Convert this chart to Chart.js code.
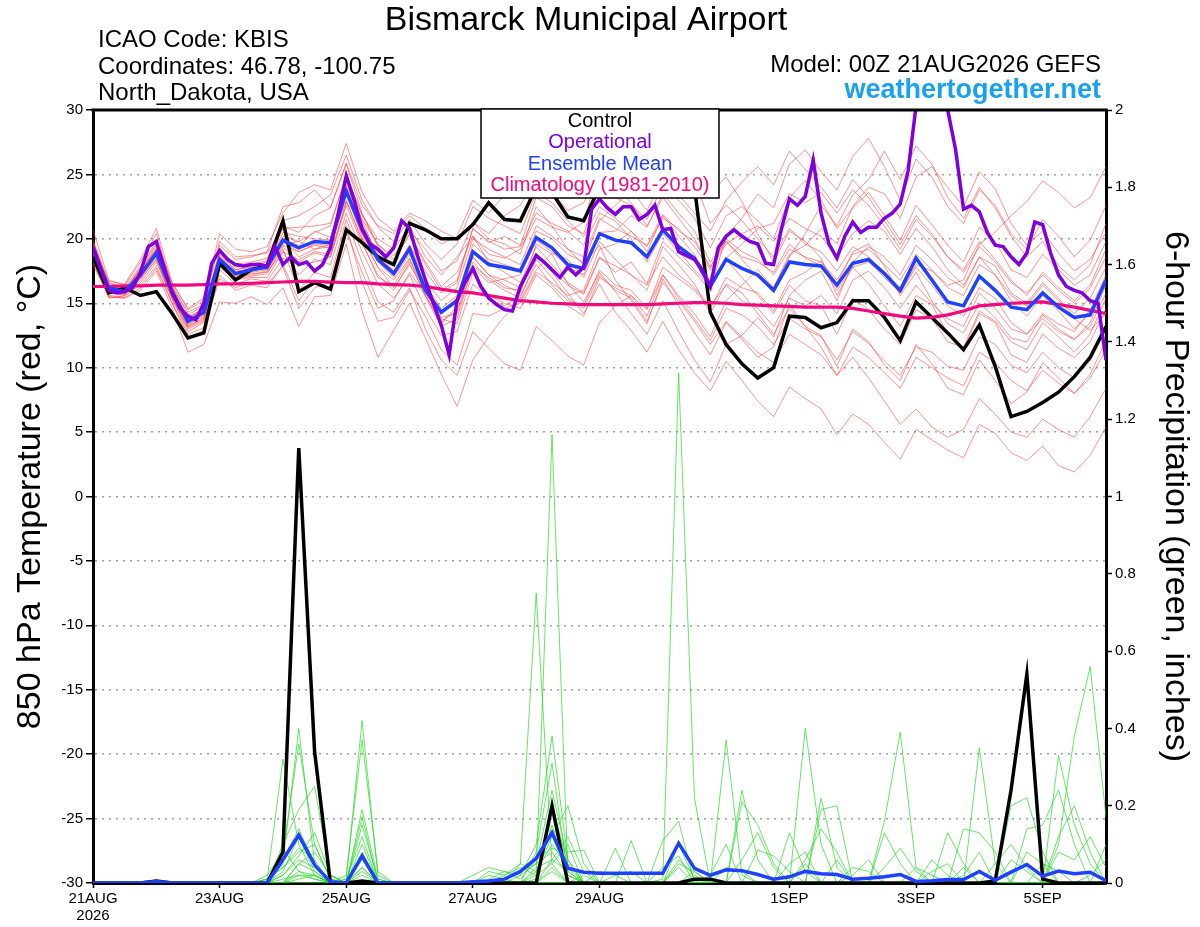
<!DOCTYPE html>
<html>
<head>
<meta charset="utf-8">
<title>Bismarck Municipal Airport</title>
<script src="https://cdn.jsdelivr.net/npm/chart.js@4.4.1/dist/chart.umd.min.js"></script>
<style>
  html, body { margin: 0; padding: 0; background: #fff; }
  #chart { display: block; }
</style>
</head>
<body>
<canvas id="chart" width="1200" height="927"></canvas>
<script>
const FONT = "'Liberation Sans', Arial, Helvetica, sans-serif";

// text
const titleText = 'Bismarck Municipal Airport';
const infoLines = ['ICAO Code: KBIS', 'Coordinates: 46.78, -100.75', 'North_Dakota, USA'];
const modelText = 'Model: 00Z 21AUG2026 GEFS';
const siteText = 'weathertogether.net';
const legendNames = ['Control', 'Operational', 'Ensemble Mean', 'Climatology (1981-2010)'];
const legendColors = ['#000000', '#7f00dd', '#2040ff', '#f00a80'];

// time axis (hours after 21AUG 00Z)
const stepHours = 6;
const opStepHours = 3;
const xTickHours = [0, 48, 96, 144, 192, 264, 312, 360];
const xTickLabels = [['21AUG', '2026'], '23AUG', '25AUG', '27AUG', '29AUG', '1SEP', '3SEP', '5SEP'];

// 850 hPa temperature, 6-hourly
const controlTemp = [18.6, 15.8, 16.2, 15.6, 15.9, 14.2, 12.3, 12.7, 18.1, 16.8,
  17.6, 17.9, 21.4, 15.9, 16.6, 16.1, 20.7, 19.7, 18.6, 18.0,
  21.2, 20.7, 20.0, 20.0, 21.1, 22.8, 21.5, 21.4, 24.0, 23.6,
  21.7, 21.4, 24.0, 25.0, 24.5, 25.0, 24.5, 25.0, 24.0, 14.3,
  11.8, 10.3, 9.2, 10.0, 14.0, 13.9, 13.1, 13.5, 15.2, 15.2,
  13.9, 12.1, 15.1, 13.9, 12.7, 11.4, 13.3, 10.1, 6.2, 6.6,
  7.3, 8.1, 9.3, 10.8, 13.2];
const meanTemp = [19.2, 16.2, 15.9, 17.2, 18.9, 15.9, 13.6, 14.3, 18.4, 17.3,
  17.6, 17.8, 19.9, 19.3, 19.8, 19.7, 23.7, 20.7, 18.4, 17.3,
  19.2, 16.0, 14.3, 15.2, 19.0, 18.0, 17.8, 17.5, 20.1, 19.3,
  18.0, 17.7, 20.4, 19.9, 19.7, 18.6, 20.7, 19.4, 18.5, 16.3,
  18.4, 17.7, 17.2, 16.0, 18.2, 18.0, 17.9, 16.4, 18.1, 18.4,
  17.3, 16.0, 18.5, 16.8, 15.1, 14.8, 17.1, 16.0, 14.7, 14.5,
  15.8, 14.7, 13.9, 14.1, 16.8];
const climoTemp = [16.3, 16.3, 16.35, 16.35, 16.4, 16.4, 16.4, 16.45, 16.5, 16.5,
  16.55, 16.6, 16.65, 16.7, 16.7, 16.65, 16.6, 16.6, 16.5, 16.45,
  16.4, 16.3, 16.1, 15.9, 15.8, 15.6, 15.4, 15.2, 15.1, 15.0,
  14.95, 14.9, 14.9, 14.9, 14.9, 14.9, 14.95, 15.0, 15.05, 15.05,
  15.0, 14.9, 14.85, 14.8, 14.75, 14.7, 14.7, 14.7, 14.6, 14.4,
  14.2, 14.0, 13.85, 13.9, 14.1, 14.4, 14.8, 14.9, 15.0, 15.05,
  15.1, 14.9, 14.7, 14.45, 14.2];

// operational run, 3-hourly
const operationalTemp = [19.4, 17.6, 16.0, 15.8, 15.9, 16.2, 17.4, 19.4, 19.8, 17.8,
  15.8, 14.6, 14.0, 13.7, 15.0, 18.1, 19.1, 18.4, 18.0, 17.9,
  18.0, 18.0, 17.9, 19.4, 18.0, 18.6, 18.0, 18.2, 17.5, 18.0,
  19.3, 22.0, 24.9, 23.0, 20.8, 19.6, 19.2, 18.6, 19.3, 21.4,
  20.8, 18.7, 16.8, 15.0, 13.3, 11.0, 15.2, 16.6, 17.7, 16.3,
  15.4, 14.9, 14.5, 14.4, 16.3, 17.5, 18.7, 18.2, 17.6, 17.0,
  17.8, 17.2, 17.8, 22.3, 23.1, 22.4, 21.9, 22.5, 22.5, 21.5,
  21.9, 22.6, 20.7, 20.8, 19.0, 18.7, 18.4, 17.6, 16.3, 19.3,
  20.2, 20.7, 20.2, 19.8, 19.6, 18.1, 18.0, 20.8, 23.1, 22.6,
  23.3, 26.1, 22.0, 19.6, 18.5, 20.2, 21.3, 20.5, 20.9, 20.9,
  21.6, 22.0, 22.7, 25.3, 30.3, 32.5, 33.0, 32.0, 30.0, 26.9,
  22.3, 22.6, 22.1, 20.5, 19.5, 19.4, 18.6, 18.0, 18.9, 21.3,
  21.1, 18.9, 17.2, 16.3, 16.0, 15.8, 15.2, 15.0, 10.6];

// ensemble members, temperature
const memT1 = [19.5, 16.0, 15.8, 17.8, 19.6, 16.1, 13.2, 13.9, 19.2, 18.0,
  18.2, 18.5, 21.0, 20.5, 21.8, 22.4, 25.8, 22.0, 19.5, 18.7,
  20.6, 19.2, 17.5, 18.3, 21.3, 20.0, 19.6, 18.8, 22.5, 21.0,
  19.2, 18.0, 19.5, 16.8, 15.2, 13.4, 16.9, 14.8, 12.7, 11.0,
  13.5, 12.2, 10.8, 11.6, 14.9, 13.2, 12.5, 10.1, 13.0, 12.0,
  10.2, 9.0, 11.8, 10.3, 8.4, 7.9, 10.6, 9.0, 7.2, 8.1,
  10.4, 9.2, 8.0, 9.5, 12.1];
const memT2 = [18.4, 15.6, 15.5, 16.6, 18.2, 15.3, 12.8, 13.5, 17.6, 16.5,
  16.9, 16.7, 18.5, 18.0, 18.2, 18.6, 22.8, 21.4, 18.6, 17.5,
  19.5, 17.5, 15.8, 16.6, 20.8, 19.7, 20.2, 19.5, 23.2, 22.5,
  21.0, 20.4, 24.0, 23.2, 22.6, 21.5, 24.2, 23.0, 21.6, 19.3,
  21.8, 22.5, 21.4, 20.0, 23.2, 24.5, 23.0, 20.8, 22.4, 23.6,
  21.8, 19.9, 22.6, 21.1, 19.5, 18.2, 20.9, 19.8, 17.6, 17.0,
  18.8, 17.6, 16.4, 17.2, 19.8];
const memT3 = [19.0, 16.4, 16.0, 17.0, 18.6, 15.6, 13.8, 14.6, 18.0, 17.0,
  17.2, 17.5, 19.2, 16.0, 17.4, 17.0, 21.5, 18.2, 15.1, 14.3,
  16.2, 13.0, 10.6, 9.4, 12.8, 11.5, 10.3, 9.8, 13.2, 12.1,
  10.9, 10.2, 13.5, 14.8, 15.6, 14.5, 17.8, 16.9, 16.0, 14.6,
  17.0, 16.2, 15.8, 14.4, 16.8, 17.4, 18.3, 16.5, 19.0, 19.6,
  17.9, 15.6, 17.4, 15.2, 13.4, 12.7, 15.0, 13.9, 12.3, 12.0,
  14.1, 13.0, 12.2, 13.5, 16.4];
const memT4 = [20.7, 16.8, 16.4, 18.2, 20.4, 16.3, 14.3, 14.9, 19.8, 18.6,
  18.7, 18.9, 20.8, 19.4, 20.6, 20.1, 24.5, 21.5, 19.6, 18.4,
  20.3, 18.2, 16.3, 17.4, 20.2, 18.8, 18.5, 19.2, 21.6, 20.9,
  20.5, 21.3, 25.5, 24.8, 26.0, 25.1, 28.4, 27.6, 26.2, 23.5,
  24.8, 22.9, 20.4, 18.2, 20.6, 19.8, 18.5, 15.6, 17.8, 16.5,
  14.8, 13.2, 15.6, 14.9, 12.6, 11.4, 14.2, 13.5, 11.0, 10.4,
  12.6, 11.5, 10.8, 12.0, 14.6];
const memT5 = [18.2, 15.4, 15.6, 16.4, 17.9, 15.0, 12.3, 12.9, 17.2, 16.0,
  16.4, 16.2, 18.0, 15.2, 16.8, 16.5, 20.6, 17.4, 14.6, 15.2,
  17.4, 15.6, 13.4, 14.8, 18.6, 17.2, 16.4, 15.8, 19.6, 18.8,
  16.5, 15.1, 17.4, 15.9, 14.2, 12.6, 15.2, 12.8, 10.6, 8.9,
  11.8, 12.5, 13.9, 12.4, 15.6, 16.8, 17.5, 15.2, 18.2, 19.4,
  18.6, 17.2, 19.5, 18.4, 17.0, 16.2, 18.6, 17.9, 15.8, 15.0,
  16.6, 15.4, 13.8, 12.9, 14.2];
const memT6 = [19.6, 16.6, 16.2, 17.6, 19.2, 16.0, 13.9, 14.5, 18.8, 17.6,
  17.9, 18.2, 20.2, 19.8, 20.5, 21.0, 25.0, 21.8, 20.0, 19.2,
  21.0, 18.6, 17.2, 18.6, 20.2, 18.2, 17.4, 16.6, 19.4, 18.0,
  16.6, 15.8, 18.6, 17.4, 18.2, 16.5, 19.8, 18.6, 17.4, 16.0,
  20.2, 21.6, 23.5, 22.4, 25.8, 26.9, 25.2, 23.8, 26.4, 27.8,
  25.6, 23.0, 26.2, 24.8, 22.5, 21.2, 23.8, 22.6, 20.4, 19.2,
  21.5, 20.2, 18.6, 19.9, 22.6];
const memT7 = [18.8, 15.8, 15.7, 17.0, 18.6, 15.6, 13.2, 13.8, 18.3, 17.2,
  17.4, 17.6, 19.5, 19.0, 19.6, 19.5, 23.4, 20.4, 18.2, 17.0,
  18.8, 16.4, 14.6, 15.6, 18.6, 17.2, 16.8, 16.2, 18.8, 17.4,
  15.8, 14.2, 16.5, 14.3, 12.9, 11.2, 13.6, 11.4, 9.6, 8.2,
  10.5, 9.0, 7.4, 6.2, 8.5, 7.6, 6.8, 4.8, 6.4, 5.6,
  4.2, 2.9, 5.2, 4.4, 3.6, 3.0, 5.6, 4.9, 3.4, 2.8,
  3.9, 2.4, 1.9, 3.2, 5.4];
const memT8 = [19.9, 16.3, 16.1, 17.4, 19.2, 16.4, 14.1, 14.8, 18.9, 17.8,
  18.0, 18.3, 21.4, 21.8, 22.5, 23.4, 26.5, 23.0, 20.9, 19.8,
  21.5, 19.6, 18.4, 19.6, 22.5, 21.6, 21.0, 20.4, 23.6, 22.8,
  21.4, 20.2, 22.5, 21.6, 20.6, 19.0, 21.8, 20.2, 18.8, 16.5,
  18.4, 17.0, 15.6, 14.2, 16.4, 15.2, 14.8, 12.6, 15.4, 14.5,
  13.0, 11.8, 14.5, 13.8, 12.0, 11.6, 14.4, 13.6, 12.0, 11.4,
  13.5, 12.4, 11.2, 12.6, 15.4];
const memT9 = [18.6, 16.0, 15.9, 17.1, 18.7, 15.8, 13.4, 14.0, 18.0, 17.0,
  17.3, 17.4, 19.0, 18.4, 19.0, 18.8, 22.9, 20.0, 17.8, 16.2,
  18.0, 15.8, 13.9, 14.2, 17.8, 16.6, 16.9, 17.2, 19.9, 19.0,
  17.8, 17.2, 20.5, 20.6, 21.8, 20.9, 23.5, 22.0, 20.6, 18.2,
  19.8, 18.4, 17.0, 16.2, 18.8, 19.5, 20.8, 19.6, 22.5, 24.0,
  23.5, 21.6, 24.8, 25.6, 24.0, 22.5, 25.2, 23.9, 21.2, 19.5,
  20.6, 18.9, 17.5, 18.4, 20.5];
const memT10 = [19.3, 16.1, 15.8, 17.3, 18.9, 15.7, 13.5, 14.4, 18.6, 17.4,
  17.7, 17.9, 20.5, 20.2, 20.0, 19.9, 24.2, 21.1, 18.9, 17.5,
  19.5, 16.2, 13.8, 13.4, 17.4, 15.6, 15.0, 14.6, 17.2, 16.2,
  14.8, 14.0, 17.0, 16.2, 15.6, 14.0, 17.2, 15.4, 13.8, 12.1,
  14.6, 14.1, 13.2, 11.8, 13.8, 13.0, 12.4, 10.6, 12.8, 11.9,
  10.5, 9.4, 11.6, 11.2, 10.1, 9.8, 12.4, 11.8, 10.2, 9.6,
  11.2, 10.0, 9.2, 10.5, 13.0];
const memT11 = [18.9, 16.2, 16.0, 17.5, 19.3, 16.2, 13.7, 14.2, 18.5, 17.5,
  17.6, 17.9, 19.6, 19.8, 19.2, 19.4, 23.9, 20.8, 18.6, 17.4,
  19.5, 16.8, 15.2, 16.2, 20.0, 19.2, 18.6, 18.0, 21.0, 20.2,
  19.2, 18.6, 21.6, 20.8, 20.2, 19.5, 21.9, 20.6, 19.8, 17.8,
  19.8, 18.6, 18.2, 17.4, 19.6, 18.5, 17.9, 16.0, 17.8, 18.2,
  17.0, 15.8, 18.0, 17.5, 16.4, 16.8, 19.6, 20.5, 21.8, 22.9,
  24.5, 23.6, 22.4, 23.2, 25.6];
const memT12 = [18.0, 15.5, 15.4, 16.0, 17.5, 14.6, 11.2, 11.8, 15.1, 15.0,
  15.5, 14.9, 16.2, 13.2, 15.5, 15.6, 19.6, 14.4, 10.8, 12.9,
  15.0, 12.3, 9.5, 7.0, 10.6, 12.4, 14.0, 15.2, 17.6, 18.9,
  18.4, 17.0, 19.8, 18.4, 17.2, 16.4, 18.6, 17.2, 16.2, 14.8,
  16.4, 15.2, 14.6, 13.2, 15.4, 14.8, 15.6, 14.2, 16.8, 17.5,
  16.2, 14.6, 16.4, 15.0, 13.8, 13.2, 15.8, 14.6, 13.0, 12.6,
  14.2, 13.4, 12.8, 14.5, 17.2];
const memT13 = [19.4, 16.5, 16.3, 17.8, 19.8, 16.6, 14.5, 15.2, 19.5, 18.4,
  18.6, 19.0, 22.5, 22.8, 23.8, 22.4, 25.9, 22.6, 21.0, 20.4,
  21.8, 20.8, 19.6, 20.2, 23.0, 22.0, 23.4, 24.2, 26.6, 25.4,
  24.8, 25.6, 28.6, 29.4, 30.8, 28.2, 29.6, 27.2, 24.6, 21.2,
  22.6, 21.4, 20.0, 18.6, 20.8, 19.6, 19.0, 17.5, 19.4, 18.6,
  17.2, 15.8, 17.8, 16.4, 14.8, 14.0, 16.2, 15.4, 13.5, 12.6,
  13.8, 12.8, 12.2, 13.2, 15.8];
const memT14 = [19.1, 16.2, 15.9, 17.2, 18.8, 15.8, 13.6, 14.6, 18.2, 17.1,
  17.5, 17.8, 19.8, 19.0, 19.5, 19.3, 23.5, 20.2, 17.8, 16.8,
  18.5, 15.5, 13.2, 13.8, 17.9, 17.0, 16.2, 16.0, 18.9, 17.5,
  16.4, 15.7, 18.5, 17.9, 17.2, 16.0, 19.4, 18.0, 16.5, 14.2,
  16.5, 15.8, 14.2, 12.6, 14.6, 13.2, 11.6, 9.4, 10.8, 9.2,
  7.4, 5.6, 6.8, 5.4, 4.6, 5.2, 7.6, 6.4, 5.0, 4.6,
  6.0, 5.2, 4.6, 6.2, 8.4];
const memT15 = [19.7, 16.4, 16.0, 17.6, 19.5, 16.2, 13.9, 14.6, 18.7, 17.6,
  17.8, 18.0, 20.8, 20.9, 21.0, 21.2, 24.8, 21.9, 19.4, 18.2,
  20.4, 18.0, 16.0, 16.8, 20.8, 19.8, 19.2, 19.4, 22.0, 21.2,
  20.6, 19.5, 22.0, 21.4, 20.0, 18.2, 20.4, 19.0, 17.6, 16.3,
  18.5, 19.6, 20.8, 21.2, 23.5, 22.8, 23.6, 22.0, 23.8, 22.6,
  21.0, 19.2, 21.5, 20.2, 18.6, 17.6, 19.8, 18.4, 16.8, 15.6,
  17.4, 16.2, 15.2, 16.4, 19.2];
const memT16 = [18.5, 15.8, 15.8, 16.9, 18.4, 15.4, 13.0, 13.6, 17.8, 16.8,
  17.0, 17.0, 19.0, 17.2, 18.4, 18.0, 22.0, 19.0, 16.5, 15.4,
  17.2, 14.6, 12.5, 12.8, 16.5, 15.4, 14.8, 15.6, 18.0, 16.4,
  15.2, 14.8, 17.6, 16.4, 16.0, 14.6, 17.2, 15.6, 14.2, 12.4,
  15.2, 16.4, 17.6, 16.2, 18.6, 20.4, 22.6, 21.0, 23.4, 24.6,
  26.8, 24.6, 27.2, 25.8, 23.2, 21.6, 24.0, 22.4, 20.2, 18.6,
  19.8, 17.9, 16.8, 18.0, 21.2];
const memT17 = [19.0, 15.9, 15.6, 17.4, 19.1, 15.5, 13.3, 14.1, 18.3, 17.3,
  17.8, 17.6, 20.0, 18.6, 19.2, 19.6, 23.0, 19.8, 17.0, 16.4,
  18.4, 16.0, 14.4, 15.4, 19.6, 18.4, 18.0, 17.6, 20.6, 20.0,
  18.8, 18.2, 21.4, 22.6, 23.8, 22.2, 24.6, 23.4, 22.0, 20.6,
  23.0, 24.4, 25.6, 24.2, 26.8, 25.4, 24.0, 22.4, 24.6, 23.2,
  21.4, 19.6, 21.8, 20.4, 18.6, 17.4, 19.4, 18.2, 16.6, 15.8,
  17.2, 16.0, 15.0, 16.2, 18.6];
const memT18 = [18.7, 15.9, 15.7, 16.8, 18.4, 15.4, 13.1, 13.7, 17.9, 16.9,
  17.1, 17.3, 19.4, 18.2, 18.9, 18.6, 22.6, 19.6, 17.2, 16.0,
  18.2, 15.6, 13.6, 14.4, 18.2, 16.8, 16.0, 15.4, 18.4, 17.0,
  15.4, 14.6, 17.2, 16.0, 15.4, 13.6, 16.6, 15.2, 13.6, 11.8,
  13.6, 12.4, 11.2, 10.4, 12.6, 11.8, 11.0, 9.4, 11.6, 10.8,
  9.6, 8.4, 10.8, 10.0, 9.2, 8.6, 11.2, 10.4, 9.0, 8.2,
  9.8, 8.8, 8.0, 9.2, 11.4];
const memT19 = [19.8, 16.7, 16.5, 18.4, 20.8, 16.6, 14.6, 15.4, 20.4, 19.2,
  19.0, 19.4, 22.0, 23.6, 24.2, 23.8, 27.4, 23.6, 21.6, 20.6,
  22.0, 21.4, 20.6, 20.0, 21.3, 20.4, 21.8, 22.6, 24.8, 23.6,
  22.2, 22.8, 25.2, 24.0, 22.8, 21.0, 23.2, 21.6, 20.0, 17.8,
  20.0, 19.0, 18.4, 17.2, 19.2, 18.6, 18.2, 16.8, 18.8, 19.2,
  18.0, 16.8, 18.8, 17.6, 16.2, 15.6, 18.0, 17.2, 15.6, 14.8,
  16.4, 15.2, 14.2, 15.4, 17.8];
const memT20 = [18.3, 15.5, 15.4, 16.2, 17.7, 15.0, 12.6, 13.1, 16.9, 16.2,
  16.6, 16.5, 17.8, 14.6, 16.2, 16.6, 21.0, 16.6, 13.6, 13.9,
  16.0, 14.0, 11.4, 10.2, 14.2, 14.0, 14.6, 15.0, 17.4, 16.6,
  15.6, 16.0, 19.2, 19.6, 20.6, 19.4, 21.6, 20.8, 19.4, 17.6,
  19.6, 20.4, 21.0, 19.8, 21.6, 20.8, 20.2, 18.6, 20.4, 21.4,
  20.6, 18.8, 20.8, 19.4, 17.6, 16.4, 18.6, 17.2, 15.2, 14.0,
  15.6, 14.4, 13.0, 14.2, 16.8];

// 6-hour precipitation (inches)
const controlPrecip = [0, 0, 0, 0, 0.005, 0, 0, 0, 0, 0,
  0, 0, 0.08, 1.125, 0.34, 0, 0, 0.005, 0, 0,
  0, 0, 0, 0, 0, 0, 0, 0, 0, 0.2,
  0, 0, 0, 0, 0, 0, 0, 0, 0.01, 0.01,
  0, 0, 0, 0, 0, 0, 0, 0, 0, 0,
  0, 0, 0, 0, 0, 0, 0, 0.005, 0.24, 0.54,
  0.01, 0, 0, 0, 0];
const meanPrecip = [0, 0, 0, 0, 0.004, 0, 0, 0, 0, 0,
  0, 0, 0.06, 0.124, 0.047, 0.003, 0, 0.07, 0, 0,
  0, 0, 0, 0, 0.003, 0.005, 0.01, 0.03, 0.064, 0.13,
  0.038, 0.028, 0.025, 0.025, 0.025, 0.025, 0.025, 0.103, 0.038, 0.02,
  0.034, 0.032, 0.022, 0.01, 0.016, 0.03, 0.024, 0.022, 0.01, 0.012,
  0.016, 0.022, 0.004, 0.006, 0.009, 0.009, 0.03, 0.007, 0.028, 0.048,
  0.018, 0.031, 0.024, 0.028, 0.006];

const memP1 = [0, 0, 0, 0, 0, 0, 0, 0, 0, 0,
  0, 0.01, 0.32, 0.10, 0.02, 0, 0, 0.04, 0, 0,
  0, 0, 0, 0, 0, 0.01, 0.03, 0.02, 0.05, 0.08,
  0.02, 0, 0, 0, 0, 0, 0, 0.10, 0.01, 0,
  0.37, 0.02, 0, 0, 0, 0.05, 0, 0, 0, 0,
  0, 0, 0.04, 0.02, 0, 0, 0, 0, 0, 0,
  0, 0, 0, 0, 0];
const memP2 = [0, 0, 0, 0, 0, 0, 0, 0, 0, 0,
  0, 0, 0.05, 0.40, 0.05, 0, 0.01, 0.42, 0.02, 0,
  0, 0, 0, 0, 0, 0, 0, 0.02, 0.10, 0.38,
  0.06, 0, 0, 0, 0, 0, 0, 0.06, 0.02, 0,
  0, 0.24, 0.06, 0, 0, 0, 0, 0, 0, 0,
  0, 0, 0, 0, 0, 0, 0, 0, 0, 0,
  0, 0.1, 0.38, 0.56, 0.17];
const memP3 = [0, 0, 0, 0, 0, 0, 0, 0, 0, 0,
  0, 0.02, 0.08, 0.36, 0.10, 0.01, 0, 0.19, 0.01, 0,
  0, 0, 0, 0, 0, 0, 0.02, 0.05, 0.03, 0.12,
  0.20, 0.05, 0, 0, 0, 0, 0, 0, 0, 0,
  0, 0.21, 0.15, 0.05, 0, 0, 0, 0, 0.04, 0.03,
  0, 0, 0, 0, 0, 0, 0, 0, 0, 0,
  0, 0, 0, 0, 0];
const memP4 = [0, 0, 0, 0, 0, 0, 0, 0, 0, 0,
  0, 0, 0.10, 0.19, 0.25, 0.02, 0, 0.10, 0, 0,
  0, 0, 0, 0, 0, 0, 0, 0, 0.04, 0.06,
  0.03, 0, 0, 0.09, 0, 0, 0, 0, 0, 0,
  0, 0, 0.085, 0.07, 0.03, 0, 0, 0, 0, 0,
  0, 0, 0, 0.06, 0.02, 0, 0, 0, 0, 0,
  0, 0, 0, 0, 0];
const memP5 = [0, 0, 0, 0, 0, 0, 0, 0, 0, 0,
  0, 0, 0.06, 0.14, 0.05, 0, 0.02, 0.37, 0.03, 0,
  0, 0, 0, 0, 0, 0.03, 0.02, 0.04, 0.02, 0.05,
  0, 0, 0, 0, 0.11, 0, 0, 0, 0, 0,
  0, 0, 0, 0, 0.13, 0.03, 0, 0, 0, 0,
  0, 0, 0, 0, 0, 0, 0, 0, 0.06, 0.03,
  0, 0, 0, 0, 0];
const memP6 = [0, 0, 0, 0, 0, 0, 0, 0, 0, 0,
  0, 0.01, 0.04, 0.08, 0.10, 0.01, 0, 0.17, 0, 0,
  0, 0, 0, 0, 0, 0, 0, 0.05, 0.75, 0.05,
  0.10, 0, 0, 0, 0, 0, 0, 0, 0, 0,
  0, 0, 0, 0, 0, 0.40, 0.10, 0, 0, 0,
  0, 0, 0, 0, 0, 0, 0, 0, 0, 0,
  0, 0.08, 0.06, 0.12, 0.04];
const memP7 = [0, 0, 0, 0, 0, 0, 0, 0, 0, 0,
  0, 0, 0.02, 0.06, 0.04, 0, 0, 0.15, 0.01, 0,
  0, 0, 0, 0, 0, 0, 0, 0, 0.02, 1.16,
  0.03, 0, 0, 0, 0, 0, 0, 0, 0, 0,
  0, 0, 0, 0, 0, 0, 0.22, 0.04, 0, 0,
  0, 0, 0, 0, 0, 0, 0, 0, 0, 0,
  0, 0, 0, 0, 0];
const memP8 = [0, 0, 0, 0, 0, 0, 0, 0, 0, 0,
  0, 0, 0.09, 0.03, 0.02, 0, 0, 0.06, 0, 0,
  0, 0, 0, 0, 0, 0, 0, 0, 0.08, 0.31,
  0.02, 0, 0, 0, 0, 0, 0, 0, 0, 0,
  0, 0, 0, 0, 0, 0, 0.19, 0.20, 0, 0,
  0, 0, 0, 0, 0, 0, 0, 0, 0, 0,
  0, 0, 0, 0, 0];
const memP9 = [0, 0, 0, 0, 0, 0, 0, 0, 0, 0,
  0, 0, 0.03, 0.12, 0.03, 0, 0, 0, 0, 0,
  0, 0, 0, 0, 0, 0, 0, 0, 0, 0.20,
  0.05, 0, 0, 0, 0, 0, 0.11, 0.16, 0, 0,
  0, 0, 0, 0, 0, 0, 0, 0, 0, 0,
  0.13, 0.05, 0, 0, 0, 0, 0, 0, 0, 0,
  0, 0, 0, 0, 0];
const memP10 = [0, 0, 0, 0, 0, 0, 0, 0, 0, 0,
  0, 0, 0, 0.05, 0.08, 0.02, 0, 0, 0, 0,
  0, 0, 0, 0, 0.02, 0.04, 0.03, 0.01, 0.06, 0.09,
  0.08, 0.085, 0, 0, 0, 0, 0, 0.05, 0.03, 0,
  0, 0, 0, 0, 0, 0, 0, 0, 0, 0,
  0.16, 0.39, 0.04, 0, 0, 0, 0, 0, 0, 0,
  0, 0, 0, 0, 0];
const memP11 = [0, 0, 0, 0, 0, 0, 0, 0, 0, 0,
  0, 0, 0, 0.02, 0.01, 0, 0, 0.02, 0, 0,
  0, 0, 0, 0, 0, 0, 0, 0, 0, 0.03,
  0, 0, 0.03, 0.02, 0, 0, 0.04, 0.07, 0, 0,
  0, 0, 0, 0, 0, 0, 0, 0, 0, 0,
  0, 0, 0, 0, 0.13, 0.05, 0, 0, 0, 0,
  0, 0, 0, 0, 0];
const memP12 = [0, 0, 0, 0, 0, 0, 0, 0, 0, 0,
  0, 0, 0, 0, 0, 0, 0, 0, 0, 0,
  0, 0, 0, 0, 0, 0, 0, 0, 0.01, 0.15,
  0, 0, 0, 0, 0, 0, 0, 0, 0, 0,
  0, 0, 0, 0, 0, 0, 0, 0, 0, 0,
  0, 0, 0, 0, 0, 0.14, 0.13, 0.08, 0, 0,
  0, 0, 0, 0, 0];
const memP13 = [0, 0, 0, 0, 0, 0, 0, 0, 0, 0,
  0, 0, 0, 0.03, 0.01, 0, 0, 0, 0, 0,
  0, 0, 0, 0, 0, 0, 0, 0, 0, 0,
  0, 0, 0, 0, 0, 0, 0.01, 1.32, 0.22, 0,
  0, 0, 0, 0, 0, 0, 0, 0, 0, 0,
  0, 0, 0, 0, 0, 0, 0.35, 0.05, 0, 0,
  0, 0, 0, 0, 0];
const memP14 = [0, 0, 0, 0, 0, 0, 0, 0, 0, 0,
  0, 0, 0, 0, 0, 0, 0, 0, 0, 0,
  0, 0, 0, 0, 0, 0, 0, 0, 0, 0,
  0, 0, 0, 0, 0, 0, 0, 0, 0, 0,
  0, 0, 0, 0, 0, 0, 0, 0, 0, 0,
  0, 0, 0, 0, 0, 0, 0, 0, 0.20, 0.22,
  0.08, 0, 0, 0, 0];
const memP15 = [0, 0, 0, 0, 0, 0, 0, 0, 0, 0,
  0, 0, 0, 0, 0, 0, 0, 0.04, 0, 0,
  0, 0, 0, 0, 0, 0, 0, 0, 0, 0,
  0, 0.02, 0, 0, 0, 0, 0, 0, 0, 0,
  0, 0, 0, 0, 0, 0, 0, 0, 0, 0,
  0, 0, 0, 0, 0, 0, 0, 0, 0, 0.14,
  0.15, 0.24, 0.10, 0, 0];
const memP16 = [0, 0, 0, 0, 0, 0, 0, 0, 0, 0,
  0, 0, 0, 0.01, 0.02, 0, 0, 0, 0, 0,
  0, 0, 0, 0, 0, 0, 0, 0, 0, 0,
  0, 0, 0, 0, 0, 0, 0, 0, 0, 0,
  0, 0, 0, 0, 0, 0, 0, 0, 0, 0,
  0, 0, 0, 0, 0, 0, 0, 0, 0, 0,
  0, 0.33, 0.15, 0.05, 0];
const memP17 = [0, 0, 0, 0, 0, 0, 0, 0, 0, 0,
  0, 0.01, 0.04, 0.09, 0.06, 0, 0.01, 0.12, 0, 0,
  0, 0, 0, 0, 0, 0, 0.01, 0.03, 0.05, 0.24,
  0.06, 0, 0, 0, 0, 0, 0, 0.04, 0, 0,
  0, 0.06, 0.13, 0.04, 0, 0, 0, 0, 0.02, 0.06,
  0, 0, 0, 0, 0, 0.02, 0.08, 0, 0, 0,
  0, 0.12, 0.20, 0.08, 0];
const memP18 = [0, 0, 0, 0, 0, 0, 0, 0, 0, 0,
  0, 0, 0.02, 0.07, 0.13, 0.02, 0, 0.08, 0, 0,
  0, 0, 0, 0, 0, 0, 0, 0, 0.03, 0.10,
  0.04, 0, 0, 0, 0, 0, 0, 0, 0, 0.02,
  0.10, 0, 0, 0, 0, 0.06, 0.14, 0.08, 0, 0,
  0, 0, 0, 0.03, 0.05, 0, 0, 0, 0, 0.08,
  0.05, 0, 0, 0, 0.10];
const memP19 = [0, 0, 0, 0, 0, 0, 0, 0, 0, 0,
  0, 0, 0, 0.05, 0.03, 0, 0, 0.03, 0, 0,
  0, 0, 0, 0, 0, 0, 0, 0, 0, 0.06,
  0.12, 0.03, 0, 0, 0, 0, 0, 0, 0.03, 0,
  0, 0, 0, 0, 0.05, 0.08, 0, 0, 0, 0,
  0.04, 0.09, 0.03, 0, 0, 0, 0, 0.05, 0.10, 0.04,
  0, 0, 0, 0.02, 0.06];
const memP20 = [0, 0, 0, 0, 0, 0, 0, 0, 0, 0,
  0, 0, 0.01, 0.02, 0.02, 0, 0, 0, 0, 0,
  0, 0, 0, 0, 0, 0.02, 0.01, 0, 0, 0.04,
  0, 0, 0, 0.02, 0.03, 0, 0, 0, 0, 0,
  0.04, 0.03, 0, 0, 0, 0, 0, 0.06, 0, 0,
  0, 0, 0, 0, 0, 0.04, 0, 0, 0, 0,
  0.05, 0.03, 0, 0, 0];

const tempMembers = [memT1, memT2, memT3, memT4, memT5, memT6, memT7, memT8, memT9, memT10,
  memT11, memT12, memT13, memT14, memT15, memT16, memT17, memT18, memT19, memT20];
const precipMembers = [memP1, memP2, memP3, memP4, memP5, memP6, memP7, memP8, memP9, memP10,
  memP11, memP12, memP13, memP14, memP15, memP16, memP17, memP18, memP19, memP20];

function toPoints(values, step) {
  return values.map((v, i) => ({ x: i * step, y: v }));
}

function thinLine(values, color, axis) {
  return {
    data: toPoints(values, stepHours),
    borderColor: color,
    borderWidth: 0.8,
    pointRadius: 0,
    yAxisID: axis,
    order: 10
  };
}

function thickLine(values, step, color, width, axis, order) {
  return {
    data: toPoints(values, step),
    borderColor: color,
    borderWidth: width,
    pointRadius: 0,
    yAxisID: axis,
    order: order
  };
}

const datasets = [];
tempMembers.forEach(m => datasets.push(thinLine(m, 'rgba(255,60,60,0.7)', 'y')));
precipMembers.forEach(m => datasets.push(thinLine(m, 'rgba(30,215,30,0.85)', 'y2')));
datasets.push(thickLine(controlPrecip, stepHours, '#000000', 3.5, 'y2', 6));
datasets.push(thickLine(meanPrecip, stepHours, '#2040ff', 3.5, 'y2', 5));
datasets.push(thickLine(controlTemp, stepHours, '#000000', 3.5, 'y', 4));
datasets.push(thickLine(climoTemp, stepHours, '#f00a80', 3.2, 'y', 3));
datasets.push(thickLine(meanTemp, stepHours, '#2040ff', 3.5, 'y', 2));
datasets.push(thickLine(operationalTemp, opStepHours, '#7f00dd', 3.5, 'y', 1));

// header text, legend box and top frame line
const decor = {
  id: 'decor',
  afterDraw(chart) {
    const { ctx, chartArea: a } = chart;
    ctx.save();
    ctx.strokeStyle = '#000';
    ctx.lineWidth = 3;
    ctx.beginPath();
    ctx.moveTo(a.left - 1.5, a.top);
    ctx.lineTo(a.right + 1.5, a.top);
    ctx.stroke();

    ctx.fillStyle = '#000';
    ctx.textBaseline = 'alphabetic';
    ctx.textAlign = 'center';
    ctx.font = '34px ' + FONT;
    ctx.fillText(titleText, 586, 30);

    ctx.textAlign = 'left';
    ctx.font = '24px ' + FONT;
    infoLines.forEach((t, i) => ctx.fillText(t, 98, 47 + i * 26.5));

    ctx.textAlign = 'right';
    ctx.fillText(modelText, 1101, 72);
    ctx.font = 'bold 27px ' + FONT;
    ctx.fillStyle = '#1aa0f0';
    ctx.fillText(siteText, 1101, 98);

    // legend
    ctx.fillStyle = '#fff';
    ctx.fillRect(481, 109, 238, 89);
    ctx.lineWidth = 1.5;
    ctx.strokeStyle = '#000';
    ctx.strokeRect(481, 109, 238, 89);
    ctx.textAlign = 'center';
    ctx.font = '20px ' + FONT;
    legendNames.forEach((name, i) => {
      ctx.fillStyle = legendColors[i];
      ctx.fillText(name, 600, 127 + i * 21.4);
    });
    ctx.restore();
  }
};

new Chart(document.getElementById('chart'), {
  type: 'line',
  data: { datasets: datasets },
  options: {
    responsive: false,
    animation: false,
    events: [],
    layout: { padding: { top: 110, left: 0, right: 0, bottom: 0 } },
    plugins: {
      legend: { display: false },
      tooltip: { enabled: false }
    },
    scales: {
      x: {
        type: 'linear',
        min: 0,
        max: 384,
        afterBuildTicks: s => { s.ticks = xTickHours.map(v => ({ value: v })); },
        afterFit: s => { s.height = 44; },
        ticks: {
          autoSkip: false,
          maxRotation: 0,
          color: '#000',
          padding: 3,
          font: { family: FONT, size: 15, lineHeight: 1.1 },
          callback: (v, i) => xTickLabels[i]
        },
        grid: { drawOnChartArea: false, tickLength: 5, tickWidth: 1.5, tickColor: '#000' },
        border: { display: true, width: 3, color: '#000' }
      },
      y: {
        position: 'left',
        min: -30,
        max: 30,
        afterFit: s => { s.width = 93; },
        ticks: { stepSize: 5, maxTicksLimit: 20, color: '#000', padding: 3, font: { family: FONT, size: 15 } },
        grid: { color: '#a0a0a0', lineWidth: 1.5, tickLength: 7, tickWidth: 1.5, tickColor: '#000' },
        border: { display: true, width: 3, color: '#000', dash: [2, 5] },
        title: {
          display: true,
          text: '850 hPa Temperature (red, °C)',
          color: '#000',
          font: { family: FONT, size: 34 },
          padding: { top: 10, bottom: 0 }
        }
      },
      y2: {
        position: 'right',
        min: 0,
        max: 2,
        afterFit: s => { s.width = 94; },
        ticks: {
          stepSize: 0.2,
          maxTicksLimit: 20,
          color: '#000',
          padding: 3,
          font: { family: FONT, size: 15 },
          callback: v => String(Math.round(v * 10) / 10)
        },
        grid: { drawOnChartArea: false, tickLength: 6, tickWidth: 1.5, tickColor: '#000' },
        border: { display: true, width: 3, color: '#000' },
        title: {
          display: true,
          text: '6-hour Precipitation (green, inches)',
          color: '#000',
          font: { family: FONT, size: 34 },
          padding: { top: 4, bottom: 0 }
        }
      }
    }
  },
  plugins: [decor]
});
</script>
</body>
</html>
